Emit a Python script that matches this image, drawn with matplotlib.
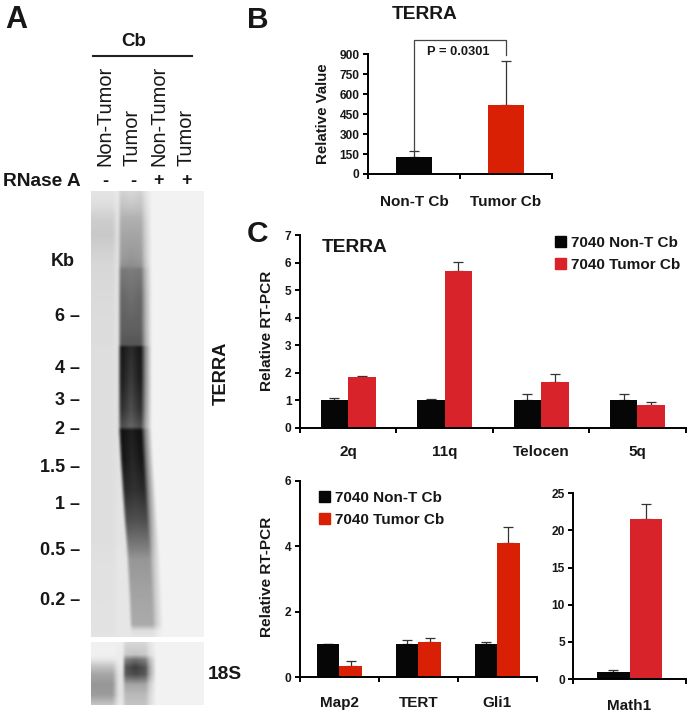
import numpy as np
import matplotlib
matplotlib.use('Agg')
import matplotlib.pyplot as plt
from matplotlib.patches import Patch

plt.rcParams['font.family'] = ['Liberation Sans', 'DejaVu Sans']

W, H = 692, 713
BLACK = '#060606'
RED = '#d8232a'
RED2 = '#d92005'
TXT = '#17171a'

# panel B
b_names = ['Non-T Cb', 'Tumor Cb']
b_vals = [125, 516]
b_tops = [173, 850]

# panel C, top
top_names = ['2q', '11q', 'Telocen', '5q']
top_non = [1.0, 1.0, 1.0, 1.0]
top_non_err = [1.07, 1.04, 1.22, 1.22]
top_tum = [1.85, 5.7, 1.66, 0.82]
top_tum_err = [1.89, 6.03, 1.94, 0.93]

# panel C, bottom left
low_names = ['Map2', 'TERT', 'Gli1']
low_non = [1.0, 1.0, 1.0]
low_non_err = [1.02, 1.12, 1.07]
low_tum = [0.35, 1.06, 4.1]
low_tum_err = [0.49, 1.19, 4.58]

# panel C, bottom right
math_names = ['Math1']
math_non = [1.0]
math_non_err = [1.25]
math_tum = [21.5]
math_tum_err = [23.6]

# gel A: grey level down the lanes (row, lane 1, gap, lane 2 edge, lane 2 middle, lane 2 centre x)
gel_rows = [192, 205, 220, 235, 258, 266, 270, 300, 330, 345, 348, 380, 410, 427, 431,
            460, 490, 520, 545, 560, 600, 625, 631, 637]
gel_lane1 = [228, 222, 205, 200, 212, 215, 215, 218, 220, 220, 222, 222, 222, 222, 222,
             222, 222, 222, 222, 224, 225, 226, 226, 228]
gel_gap = [232, 232, 230, 228, 228, 228, 228, 228, 228, 228, 226, 226, 226, 226, 226,
           226, 226, 228, 228, 230, 230, 230, 230, 230]
gel_edge = [208, 195, 175, 165, 155, 145, 120, 100, 95, 85, 20, 25, 45, 75, 15,
            20, 40, 75, 120, 150, 165, 170, 220, 228]
gel_mid = [215, 200, 175, 165, 150, 140, 125, 110, 95, 85, 45, 60, 80, 100, 30,
           40, 50, 80, 120, 150, 165, 170, 220, 228]
gel_centre = [130.5] * 15 + [132, 134, 136, 138, 139, 141, 142, 142.5, 142.5]

# gel 18S
s18_rows = [643, 655, 660, 668, 675, 685, 695, 705]
s18_lane1 = [240, 240, 230, 190, 165, 150, 155, 195]
s18_gap = [238, 235, 235, 230, 225, 225, 225, 230]
s18_edge = [215, 200, 130, 85, 90, 165, 185, 195]
s18_mid = [215, 195, 110, 60, 75, 165, 185, 195]
s18_centre = [135] * 8

kb_labels = ['6', '4', '3', '2', '1.5', '1', '0.5', '0.2']
kb_y = [315, 367, 399, 428, 466, 503, 549, 599]


def px_axes(left, right, top, bottom):
    return fig.add_axes([left / W, 1 - bottom / H, (right - left) / W, (bottom - top) / H])


def soften(img, kernel, axis):
    k = np.array(kernel, float) / sum(kernel)
    pad = len(k) // 2
    widths = [(pad, pad), (0, 0)] if axis == 0 else [(0, 0), (pad, pad)]
    padded = np.pad(img, widths, mode='edge')
    return np.apply_along_axis(lambda r: np.convolve(r, k, mode='valid'), axis, padded)


def draw_gel(ax, rows, lane1, gap, edge, mid, centre):
    lane1, gap = np.array(lane1, float), np.array(gap, float)
    edge, mid = np.array(edge, float), np.array(mid, float)
    centre = np.array(centre, float)
    ys = np.arange(rows[0], rows[-1] + 1)
    xs = np.arange(91, 204)
    img = np.zeros((len(ys), len(xs)))
    for i, y in enumerate(ys):
        c = np.interp(y, rows, centre)
        at = lambda s: np.interp(y, rows, s)
        cols = [91, 95, 112, 118, c - 13, c - 10, c, c + 10, c + 14, c + 21, 203]
        grey = [at(lane1), at(lane1), at(lane1), at(gap), at(gap), at(edge), at(mid), at(edge),
                (at(edge) + 242) / 2, 242, 242]
        img[i] = np.interp(xs, cols, grey)
    img = soften(img, [1, 4, 6, 4, 1], 1)
    img = soften(img, [1, 2, 1], 0)
    ax.imshow(img, extent=(90.5, 203.5, rows[-1] + 0.5, rows[0] - 0.5), cmap='gray', vmin=0, vmax=255,
              aspect='auto', interpolation='bilinear')


def style_axes(ax, names, ymax, yticks, pad=12, lw=1.4):
    for side in ['top', 'right']:
        ax.spines[side].set_visible(False)
    for side in ['left', 'bottom']:
        ax.spines[side].set_linewidth(lw)
    n = len(names)
    ax.set_xlim(-0.5, n - 0.5)
    ax.set_ylim(0, ymax)
    ax.set_yticks(yticks)
    ax.set_xticks(np.arange(n + 1) - 0.5)
    ax.set_xticklabels([])
    ax.set_xticks(np.arange(n), minor=True)
    ax.set_xticklabels(names, minor=True, fontsize=11, fontweight='bold', color=TXT)
    ax.tick_params(axis='x', which='minor', length=0, pad=pad)
    ax.tick_params(axis='both', which='major', length=3.6, width=lw, direction='out')
    ax.tick_params(axis='y', labelsize=8.6, pad=2.5, labelcolor=TXT)
    for t in ax.get_yticklabels():
        t.set_fontweight('bold')


def group_bars(ax, non, non_err, tum, tum_err, width, red):
    x = np.arange(len(non))
    ax.errorbar(x - width / 2, non, yerr=[np.zeros(len(non)), np.array(non_err) - np.array(non)],
                fmt='none', ecolor='#333333', elinewidth=0.9, capsize=3.4, capthick=0.9, zorder=1)
    ax.errorbar(x + width / 2, tum, yerr=[np.zeros(len(tum)), np.array(tum_err) - np.array(tum)],
                fmt='none', ecolor='#333333', elinewidth=0.9, capsize=3.4, capthick=0.9, zorder=1)
    ax.bar(x - width / 2, non, width, color=BLACK, zorder=2)
    ax.bar(x + width / 2, tum, width, color=red, zorder=2)


def add_legend(ax, x, y, red):
    handles = [Patch(color=BLACK, label='7040 Non-T Cb'), Patch(color=red, label='7040 Tumor Cb')]
    ax.legend(handles=handles, loc='upper left', bbox_to_anchor=(x / W, 1 - y / H),
              bbox_transform=fig.transFigure, frameon=False, handlelength=0.72, handleheight=0.72,
              handletextpad=0.3, labelspacing=0.5, borderpad=0, borderaxespad=0,
              prop={'size': 11, 'weight': 'bold'}, labelcolor=TXT)


fig = plt.figure(figsize=(W / 100, H / 100), dpi=100)

# full page axes in image pixels, for the blot and the loose text
overlay = fig.add_axes([0, 0, 1, 1])
overlay.set_zorder(5)
overlay.axis('off')

draw_gel(overlay, gel_rows, gel_lane1, gel_gap, gel_edge, gel_mid, gel_centre)
draw_gel(overlay, s18_rows, s18_lane1, s18_gap, s18_edge, s18_mid, s18_centre)
overlay.set_xlim(0, W)
overlay.set_ylim(H, 0)


def note(x, y, s, size=13.5, weight='bold', ha='center', rotation=0, va='center'):
    # va center sits a little high for capitals
    if rotation == 0:
        y = y + 1.5
    overlay.text(x, y, s, fontsize=size, fontweight=weight, ha=ha, va=va, rotation=rotation, color=TXT)


note(16, 19, 'A', 22)
note(258, 18, 'B', 21.5)
note(258, 232, 'C', 21.5)

note(134, 40, 'Cb')
overlay.plot([93, 192], [56, 56], color='#222222', lw=1.5)
for x, name in zip([105, 132.5, 159, 186], ['Non-Tumor', 'Tumor', 'Non-Tumor', 'Tumor']):
    note(x, 166.5, name, 14.4, 'normal', rotation=90, va='bottom')
for x, sign in zip([105, 133, 159, 186], ['-', '-', '+', '+']):
    note(x, 179.5, sign, 13, 'bold')
note(3, 180, 'RNase A', 13.8, ha='left')
note(63, 260, 'Kb', 13)
for label, y in zip(kb_labels, kb_y):
    note(80, y, label + ' \u2013', 13, ha='right')
note(221, 373, 'TERRA', 13.2, rotation=90)
note(208, 673, '18S', 13.8, ha='left')

# panel B
ax_b = px_axes(368, 551.7, 54.3, 174)
style_axes(ax_b, b_names, 900, [0, 150, 300, 450, 600, 750, 900], pad=15)
ax_b.errorbar([0, 1], b_vals, yerr=[[0, 0], np.array(b_tops) - np.array(b_vals)], fmt='none',
              ecolor='#333333', elinewidth=0.9, capsize=3.4, capthick=0.9, zorder=1)
ax_b.bar([0, 1], b_vals, 0.395, color=[BLACK, RED2], zorder=2)
ax_b.plot([0, 0, 1, 1], [b_tops[0], 1007, 1007, 895], color='#444444', lw=0.9, clip_on=False)
note(425, 13, 'TERRA', 13.8)
note(458.5, 50.5, 'P = 0.0301', 9.3)
note(323, 114, 'Relative Value', 10.8, rotation=90)

# panel C top
ax_top = px_axes(300, 685.7, 235, 427.7)
style_axes(ax_top, top_names, 7, range(8), pad=12.5)
group_bars(ax_top, top_non, top_non_err, top_tum, top_tum_err, 0.285, RED)
add_legend(ax_top, 555, 236, RED)
note(355, 246, 'TERRA', 13.8)
note(266.7, 331, 'Relative RT-PCR', 11.1, rotation=90)

# panel C bottom left
ax_low = px_axes(300, 536.7, 480.7, 677)
style_axes(ax_low, low_names, 6, [0, 2, 4, 6], pad=14)
group_bars(ax_low, low_non, low_non_err, low_tum, low_tum_err, 0.283, RED2)
add_legend(ax_low, 319, 491, RED2)
note(266.7, 577, 'Relative RT-PCR', 11.1, rotation=90)

# panel C bottom right
ax_math = px_axes(573.3, 685.7, 493.3, 679)
style_axes(ax_math, math_names, 25, [0, 5, 10, 15, 20, 25], pad=14.5)
group_bars(ax_math, math_non, math_non_err, math_tum, math_tum_err, 0.288, RED)

fig.savefig('out.png', dpi=100)
